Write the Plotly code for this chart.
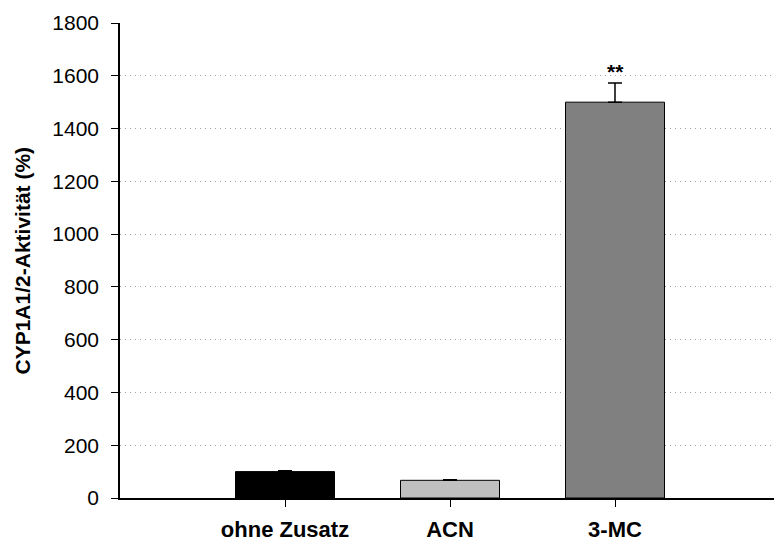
import plotly.graph_objects as go

categories = ["ohne Zusatz", "ACN", "3-MC"]
positions = [1, 2, 3]
values = [100, 67, 1500]
errors_up = [3, 2, 73]
bar_colors = ["#000000", "#c0c0c0", "#808080"]
y_ticks = [0, 200, 400, 600, 800, 1000, 1200, 1400, 1600, 1800]
significance = {"3-MC": "**"}
sig_y = 1615
y_title = "CYP1A1/2-Aktivität (%)"

FONT = "Liberation Sans, Arial"
W, H = 774, 543
L, T, B = 120, 23, 45
PW = W - L

fig = go.Figure()
fig.add_trace(go.Bar(
    x=positions, y=values, width=0.6,
    marker=dict(color=bar_colors, line=dict(color="black", width=1)),
    error_y=dict(type="data", symmetric=False, array=errors_up,
                 arrayminus=[0] * len(values), color="black", thickness=1.5, width=7),
    showlegend=False,
))

for cat, pos in zip(categories, positions):
    if cat in significance:
        fig.add_annotation(x=pos, y=sig_y, text="<b>" + significance[cat] + "</b>",
                           showarrow=False, font=dict(size=21, color="black", family=FONT))

fig.add_annotation(xref="paper", yref="paper", x=(22 - L) / PW, y=0.5,
                   text="<b>" + y_title + "</b>", textangle=-90, showarrow=False,
                   xanchor="center", yanchor="middle",
                   font=dict(size=21, color="black", family=FONT))

fig.update_layout(
    width=W, height=H,
    margin=dict(l=L, r=0, t=T, b=B),
    paper_bgcolor="white", plot_bgcolor="white",
    font=dict(family=FONT, color="black", size=21),
    bargap=0.4,
)
fig.update_xaxes(
    range=[0, PW / 165], tickvals=positions,
    ticktext=["<b>" + c + "</b>" for c in categories],
    showline=True, linecolor="black", linewidth=1.5,
    ticks="outside", ticklen=7, tickcolor="black", tickwidth=1,
    showgrid=False, zeroline=False, tickfont=dict(size=22), ticklabelstandoff=4,
    automargin=False,
)
fig.update_yaxes(
    range=[0, 1800], tickvals=y_ticks,
    showline=True, linecolor="black", linewidth=1.5,
    ticks="outside", ticklen=7, tickcolor="black", tickwidth=1,
    showgrid=True, gridcolor="#a0a0a0", griddash="1px,4px", gridwidth=1,
    zeroline=False, tickfont=dict(size=21), ticklabelstandoff=8,
    automargin=False,
)

fig.write_html("out.html", config={"displayModeBar": False},
               post_script="document.body.style.margin='0';document.body.style.overflow='hidden';")
